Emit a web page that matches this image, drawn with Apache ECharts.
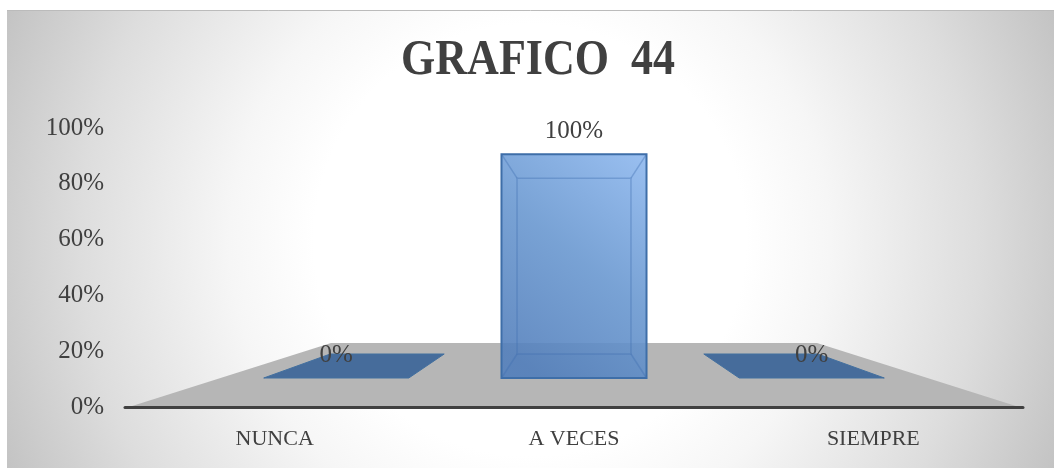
<!DOCTYPE html>
<html>
<head>
<meta charset="utf-8">
<style>html,body{margin:0;padding:0;background:#fff}#c{width:1054px;height:468px}</style>
<script src="https://cdn.jsdelivr.net/npm/echarts@6/dist/echarts.min.js"></script>
</head>
<body>
<div id="c"></div>
<script>
var titleText = 'GRAFICO  44';
var categories = ['NUNCA', 'A VECES', 'SIEMPRE'];
var values = [0, 100, 0];
var yTicks = [0, 20, 40, 60, 80, 100];

var serif = '"Liberation Serif", serif';
var floorDepthPx = 64, shrink = 0.454;
function scaleAt(d){ return 1 - shrink * d; }

function project(api, params, catX, offset, d, heightPx){
  var cs = params.coordSys;
  var cx = cs.x + cs.width / 2;
  var s = scaleAt(d);
  return [cx + (catX - cx + offset) * s, cs.y + cs.height - floorDepthPx * d - heightPx * s * 1.01];
}

function renderFloor(params, api){
  var cs = params.coordSys, b = cs.y + cs.height, cx = cs.x + cs.width / 2, half = 445;
  var s = scaleAt(1);
  return {
    type: 'polygon', silent: true,
    shape: { points: [[cx - half, b], [cx + half, b], [cx + half * s, b - floorDepthPx], [cx - half * s, b - floorDepthPx]] },
    style: { fill: '#b6b6b6' }
  };
}

function renderBar(params, api){
  var idx = api.value(0), v = api.value(1);
  var base = api.coord([idx, 0]);
  var top = api.coord([idx, v]);
  var h = base[1] - top[1];
  var band = api.size([1, 0])[0];
  var w = band * 0.305, df = 29 / 64, db = 53 / 64;
  var P = function(o, d, hh){ return project(api, params, base[0], o, d, hh); };
  var fbl = P(-w, df, 0), fbr = P(w, df, 0), bbl = P(-w, db, 0), bbr = P(w, db, 0);
  var ftl = P(-w, df, h), ftr = P(w, df, h), btl = P(-w, db, h), btr = P(w, db, h);
  var border = '#3e6ea8', inner = 'rgba(62,110,175,0.38)';
  var children = [];
  children.push({ type: 'polygon', shape: { points: [fbl, fbr, bbr, bbl] },
    style: { fill: h > 0 ? 'rgba(50,95,150,0.2)' : 'rgba(50,95,150,0.85)', stroke: h > 0 ? 'transparent' : '#43709f', lineWidth: 1 } });
  if (h > 0) {
    children.push({ type: 'polygon', shape: { points: [ftl, ftr, fbr, fbl] },
      style: {
        fill: { type: 'linear', x: 0, y: 0.85, x2: 1, y2: 0.05, colorStops: [
          { offset: 0, color: 'rgba(84,128,188,0.9)' },
          { offset: 0.5, color: 'rgba(106,152,208,0.9)' },
          { offset: 1, color: 'rgba(146,186,238,0.95)' }] },
        stroke: border, lineWidth: 2 } });
    children.push({ type: 'polygon', shape: { points: [btl, btr, bbr, bbl] },
      style: { fill: 'transparent', stroke: inner, lineWidth: 1.5 } });
    [[ftl, btl], [ftr, btr], [fbl, bbl], [fbr, bbr]].forEach(function(p){
      children.push({ type: 'line', shape: { x1: p[0][0], y1: p[0][1], x2: p[1][0], y2: p[1][1] },
        style: { stroke: inner, lineWidth: 1.5 } });
    });
  }
  children.push({ type: 'text', style: {
    text: v + '%', x: (ftl[0] + ftr[0]) / 2, y: ftl[1] - 23,
    align: 'center', verticalAlign: 'middle',
    fill: '#404040', font: '25px ' + serif } });
  return { type: 'group', children: children };
}

var chart = echarts.init(document.getElementById('c'), null, { renderer: 'canvas' });
chart.setOption({
  animation: false,
  backgroundColor: '#ffffff',
  graphic: [{
    type: 'rect', z: -10, silent: true,
    shape: { x: 7, y: 10, width: 1047, height: 458 },
    style: { fill: { type: 'radial', x: 530, y: 240, r: 600, global: true, colorStops: [
      { offset: 0, color: '#ffffff' }, { offset: 0.36, color: '#ffffff' },
      { offset: 0.5, color: '#f6f6f6' }, { offset: 0.75, color: '#dddddd' }, { offset: 1, color: '#bdbdbd' }] } }
  }, {
    type: 'line', z: -9, silent: true,
    shape: { x1: 7, y1: 10.5, x2: 1054, y2: 10.5 },
    style: { stroke: '#bbbbbb', lineWidth: 1 }
  }, {
    type: 'text', z: 10, silent: true,
    x: 538, y: 61, scaleX: 0.88,
    style: { text: titleText, align: 'center', verticalAlign: 'middle',
      fill: '#404040', font: 'bold 50px ' + serif }
  }],
  grid: { left: 125, right: 31, top: 128, bottom: 61 },
  xAxis: {
    type: 'category', data: categories, z: 5,
    axisTick: { show: false },
    axisLine: { show: true, onZero: false, lineStyle: { color: '#404040', width: 3, cap: 'round' } },
    axisLabel: { color: '#404040', fontFamily: serif, fontSize: 22, margin: 21 }
  },
  yAxis: {
    type: 'value', min: 0, max: 100, interval: 20,
    axisLine: { show: false }, axisTick: { show: false }, splitLine: { show: false },
    axisLabel: { color: '#404040', fontFamily: serif, fontSize: 25, margin: 21, padding: [2, 0, 0, 0],
      formatter: function(v){ return yTicks.indexOf(v) >= 0 ? v + '%' : ''; } }
  },
  series: [{
    type: 'custom', z: 1, silent: true, renderItem: renderFloor, data: [[0, 0]], clip: false
  }, {
    type: 'custom', z: 2, silent: true, renderItem: renderBar, clip: false,
    encode: { x: 0, y: 1 },
    data: values.map(function(v, i){ return [i, v]; })
  }]
});
</script>
</body>
</html>
